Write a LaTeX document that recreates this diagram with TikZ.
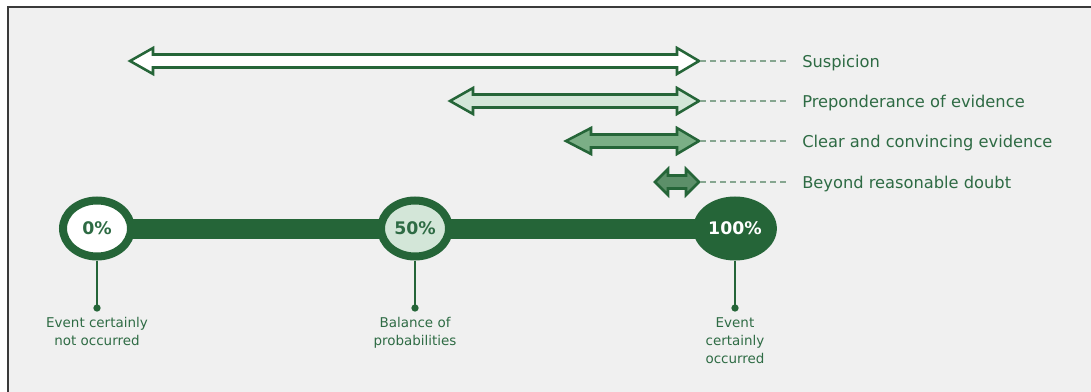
\documentclass[tikz,border=0pt]{standalone}
\usepackage{fontspec}
\setmainfont{DejaVu Sans}
\usetikzlibrary{shapes.geometric,backgrounds}
\definecolor{dkgreen}{HTML}{256538}
\definecolor{txtgreen}{HTML}{2E6B44}
\definecolor{guidegreen}{HTML}{86A690}
\definecolor{palegreen}{HTML}{D3E6D8}
\definecolor{midgreen}{HTML}{7BAF86}
\definecolor{deepgreen}{HTML}{5C8F69}
\definecolor{panel}{HTML}{F0F0F0}
\definecolor{frame}{HTML}{3A3A3A}
% #1 left tip x, #2 right tip x, #3 centre y, #4 left head length, #5 right head length, #6 fill, #7 name of right tip
\newcommand{\dblarr}[7]{%
  \path[arrowshape, fill=#6] (#1,#3) -- (#1+#4,#3-13) -- (#1+#4,#3-6.5) -- (#2-#5,#3-6.5)
    -- (#2-#5,#3-13) -- (#2,#3) -- (#2-#5,#3+13) -- (#2-#5,#3+6.5) -- (#1+#4,#3+6.5)
    -- (#1+#4,#3+13) -- cycle;
  \coordinate (#7) at (#2+1,#3);}
\begin{document}
\begin{tikzpicture}[x=0.75pt,y=-0.75pt,
  arrowshape/.style={draw=dkgreen, line width=1.9pt, line join=miter},
  guide/.style={draw=guidegreen, line width=0.9pt, dash pattern=on 4.5pt off 3pt},
  lab/.style={anchor=west, text=txtgreen, font=\fontsize{12.2}{14}\selectfont, inner sep=0pt},
  pct/.style={ellipse, draw=dkgreen, line width=6pt, minimum width=51pt, minimum height=42pt,
    inner sep=0pt, font=\bfseries\fontsize{13}{15}\selectfont, text=txtgreen},
  stem/.style={draw=dkgreen, line width=2.2pt},
  dotmark/.style={circle, fill=dkgreen, inner sep=0pt, minimum size=5.5pt},
  bottomlabel/.style={anchor=north, align=center, text=txtgreen, font=\fontsize{10.1}{13.5}\selectfont, inner sep=0pt}]
\useasboundingbox (0,0) rectangle (1091,392);

% range arrows
\dblarr{130}{699}{61}{23}{22}{white}{t1}
\dblarr{450}{699}{101}{23}{22}{palegreen}{t2}
\dblarr{566}{699}{141}{25}{22}{midgreen}{t3}
\dblarr{655}{699}{182}{13}{13}{deepgreen}{t4}

% labels
\node[lab] (s1) at (802,63.5) {Suspicion};
\node[lab] (s2) at (802,103.5) {Preponderance of evidence};
\node[lab] (s3) at (802,143.5) {Clear and convincing evidence};
\node[lab] (s4) at (802,184.5) {Beyond reasonable doubt};
\foreach \i in {1,2,3,4} \draw[guide] (t\i) -- ([xshift=-9pt]t\i -| s\i.west);

% scale
\node[pct, fill=white] (c0) at (97,228.5) {0\%};
\node[pct, fill=palegreen] (c50) at (415,228.5) {50\%};
\node[pct, fill=dkgreen, text=white] (c100) at (735,228.5) {100\%};
\begin{scope}[on background layer]
  \fill[white] (0,0) rectangle (1091,392);
  \fill[panel] (8,7) rectangle (1091,392);
  \draw[frame, line width=1.1pt] (8,392) -- (8,7) -- (1091,7);
  \draw[dkgreen, line width=15pt] (c0.center) -- (c100.center);
\end{scope}

\node[dotmark] (d0) at (97,308) {};
\node[dotmark] (d50) at (415,308) {};
\node[dotmark] (d100) at (735,308) {};
\draw[stem] (c0.south) -- (d0.center);
\draw[stem] (c50.south) -- (d50.center);
\draw[stem] (c100.south) -- (d100.center);

\node[bottomlabel] (l0) at (97,317) {Event certainly\\not occurred};
\node[bottomlabel] (l50) at (415,317) {Balance of\\probabilities};
\node[bottomlabel] (l100) at (735,317) {Event\\certainly\\occurred};
\end{tikzpicture}
\end{document}
